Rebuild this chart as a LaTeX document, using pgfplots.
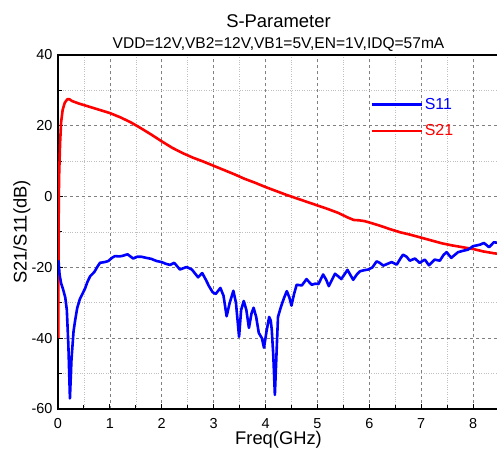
\documentclass[border=0pt]{standalone}
\usepackage{pgfplots}
\pgfplotsset{compat=1.18}
\usepackage{fontspec}
\setmainfont{Liberation Sans}
\definecolor{sblue}{RGB}{0,0,255}
\definecolor{sred}{RGB}{255,0,0}
\begin{document}
\begin{tikzpicture}
\useasboundingbox (-58bp,-45bp) rectangle (439bp,409bp);
\begin{axis}[
    name=ax,
    scale only axis,
    width=441bp, height=354bp,
    xmin=0, xmax=8.5,
    ymin=-60, ymax=40,
    xtick={0,1,...,8},
    ytick={-60,-40,-20,0,20,40},
    minor x tick num=1,
    minor y tick num=1,
    xtick pos=bottom, ytick pos=left,
    tick align=inside,
    major tick length=5bp, minor tick length=4bp,
    every tick/.style={black, line width=1bp},
    axis line style={line width=1.2bp},
    grid=both,
    major grid style={gray, dashed, line width=0.6bp},
    minor grid style={lightgray, dotted, line width=0.6bp},
    /pgf/number format/assume math mode=true,
    ticklabel style={font=\fontsize{14.5}{17}\selectfont},
    xticklabel style={yshift=-6bp},
    yticklabel style={xshift=-2bp},
    xlabel={Freq(GHz)},
    ylabel={S21/S11(dB)},
    label style={font=\fontsize{18.4}{22}\selectfont},
    xlabel style={at={(axis description cs:0.5,-0.0876)}, anchor=center},
    ylabel style={at={(axis description cs:-0.082,0.5)}, anchor=center, rotate=0},
    legend style={at={(axis description cs:0.703,0.89)}, anchor=north west,
        draw=none, fill=none, font=\fontsize{16}{19}\selectfont,
        row sep=10bp, inner sep=2bp},
    legend cell align=left,
    legend image code/.code={\draw[#1] (0bp,0bp) -- (50bp,0bp);},
    reverse legend,
]
% S21
\addplot[sred, line width=2.6bp, line join=round] coordinates {
(0.005,-40) (0.01,-10) (0.02,5) (0.04,15) (0.06,21) (0.09,24.5) (0.13,26.5)
(0.18,27.5) (0.22,27.5) (0.27,27) (0.4,26.3) (0.6,25.4) (0.8,24.5) (1.0,23.6)
(1.2,22.4) (1.4,21) (1.6,19.3) (1.8,17.5) (2.0,15.6) (2.2,13.8) (2.4,12.3)
(2.6,11) (2.8,9.9) (3.0,8.7) (3.2,7.5) (3.4,6.3) (3.6,5.0) (3.8,3.9) (4.0,2.7)
(4.2,1.6) (4.4,0.5) (4.6,-0.5) (4.8,-1.5) (5.0,-2.5) (5.2,-3.5) (5.4,-4.6)
(5.6,-6) (5.7,-6.6) (5.8,-6.7) (5.9,-6.9) (6.0,-7.3) (6.2,-8.2) (6.4,-9.2)
(6.6,-10.1) (6.8,-10.8) (7.0,-11.6) (7.2,-12.4) (7.4,-13.2) (7.6,-13.8)
(7.8,-14.3) (8.0,-14.8) (8.2,-15.5) (8.4,-16) (8.5,-16.2)
};
\addlegendentry{\textcolor{sred}{S21}}
% S11
\addplot[sblue, line width=2.6bp, line join=round] coordinates {
(0.01,-18) (0.03,-22) (0.06,-24.5) (0.1,-26.3) (0.14,-28.5) (0.17,-32) (0.2,-42)
(0.23,-57) (0.26,-46) (0.3,-38) (0.33,-35) (0.37,-31.5) (0.42,-29) (0.47,-27.5)
(0.52,-26) (0.57,-24) (0.62,-22.5) (0.7,-21.3) (0.76,-19.8) (0.81,-18.7)
(0.9,-18.5) (0.97,-18.2) (1.04,-17.3) (1.1,-16.8) (1.17,-16.9) (1.23,-16.8)
(1.34,-16.3) (1.45,-17.5) (1.52,-17) (1.61,-17) (1.7,-17.3) (1.8,-17.6)
(1.9,-18.2) (2.0,-18.5) (2.08,-19) (2.16,-19.3) (2.24,-18.7) (2.35,-20.6)
(2.42,-20.2) (2.48,-19.9) (2.58,-20.6) (2.7,-22.8) (2.78,-21.6) (2.85,-23.5)
(2.91,-25.3) (2.98,-27) (3.04,-27.5) (3.13,-25.8) (3.19,-28) (3.25,-33.8)
(3.31,-30) (3.38,-26.6) (3.43,-30) (3.49,-39.6) (3.53,-32) (3.58,-29.5)
(3.63,-32) (3.68,-37.1) (3.73,-33) (3.77,-31.4) (3.82,-34) (3.87,-38.5)
(3.93,-40) (3.97,-42.7) (4.02,-38) (4.07,-34) (4.1,-35) (4.12,-37.6)
(4.15,-45) (4.18,-56) (4.21,-45) (4.24,-34) (4.3,-31) (4.36,-28.5)
(4.41,-26.7) (4.46,-28.5) (4.5,-30.8) (4.55,-27.5) (4.6,-24.9) (4.7,-25.1)
(4.79,-23.3) (4.85,-24.3) (4.89,-24.9) (4.96,-24.6) (5.02,-24.7) (5.11,-22)
(5.17,-23.5) (5.22,-25.3) (5.28,-23.5) (5.34,-21.8) (5.4,-22.5) (5.46,-23.3)
(5.52,-22) (5.58,-20.7) (5.63,-22) (5.69,-23.5) (5.76,-22) (5.82,-21.1)
(5.9,-20.8) (5.98,-20.6) (6.06,-20) (6.14,-18.3) (6.2,-18.7) (6.27,-19.5)
(6.35,-19) (6.43,-18.5) (6.53,-19.2) (6.6,-17.5) (6.65,-16.4) (6.72,-17)
(6.78,-18.1) (6.88,-17.5) (6.97,-18.7) (7.07,-17.8) (7.15,-19.4) (7.26,-17.8)
(7.36,-18.1) (7.43,-16.5) (7.49,-15.7) (7.58,-17.3) (7.71,-15.7) (7.81,-15.3)
(7.9,-15) (8.0,-14) (8.13,-13.6) (8.21,-13.1) (8.31,-14.3) (8.4,-12.9) (8.5,-13.1)
};
\addlegendentry{\textcolor{sblue}{S11}}
\end{axis}
\node[font=\fontsize{18.5}{22}\selectfont] at ([yshift=34bp]ax.north) {S-Parameter};
\node[font=\fontsize{15.6}{18}\selectfont] at ([yshift=10bp]ax.north) {VDD=12V,VB2=12V,VB1=5V,EN=1V,IDQ=57mA};
\end{tikzpicture}
\end{document}
